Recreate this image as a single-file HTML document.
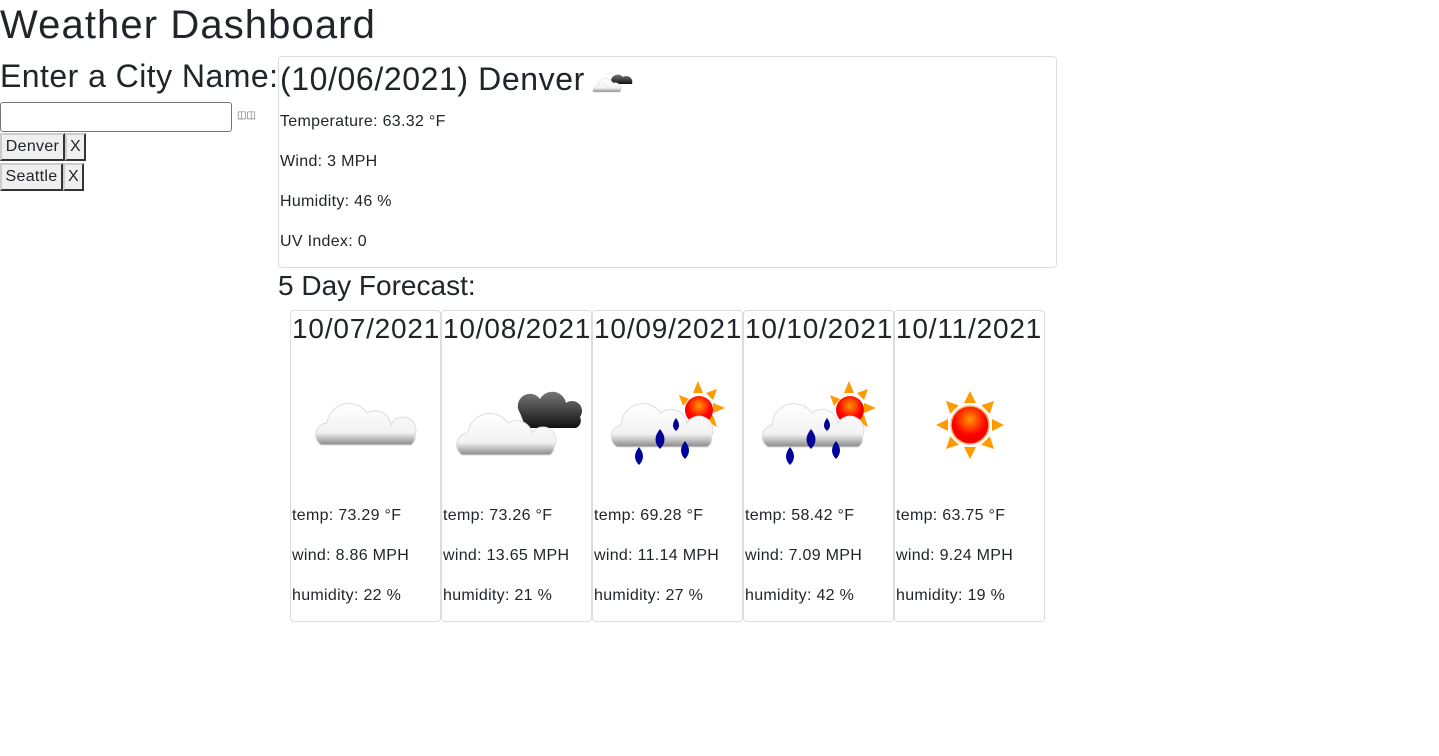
<!DOCTYPE html>
<html><head><meta charset="utf-8"><style>
body{margin:0;width:1439px;height:756px;background:#fff;font-family:"Liberation Sans",sans-serif;color:#212529;position:relative;overflow:hidden}
.a{position:absolute;white-space:nowrap}
.btn{position:absolute;background:#efefef;font-size:16px;line-height:24px;text-align:center;box-sizing:border-box;border-width:2px;border-style:outset;border-color:#ccc #888 #888 #ccc;letter-spacing:.3px}
.card{position:absolute;border:1px solid #ddd;border-radius:4px;box-sizing:border-box}
.fc{top:310px;width:151px;height:312px}
.fc .d{position:absolute;left:1px;top:0;font-size:28px;line-height:36px;letter-spacing:.8px}
.fc svg{position:absolute;left:0;top:60px}
.fc .t{position:absolute;left:1px;font-size:16px;letter-spacing:.3px}
.cur{font-size:16px;letter-spacing:.3px}
</style></head><body>
<svg width="0" height="0" style="position:absolute">
<defs>
<linearGradient id="cg" x1="0" y1="0" x2="0" y2="1"><stop offset="0" stop-color="#fff"/><stop offset=".7" stop-color="#f2f2f2"/><stop offset="1" stop-color="#888"/></linearGradient>
<linearGradient id="dg" x1="0" y1="0" x2="0" y2="1"><stop offset="0" stop-color="#777"/><stop offset="1" stop-color="#111"/></linearGradient>
<radialGradient id="sg" cx=".5" cy=".35" r=".6"><stop offset="0" stop-color="#ff9a00"/><stop offset=".7" stop-color="#f00"/><stop offset="1" stop-color="#e00"/></radialGradient>
<g id="drops" fill="#00009a"><path d="M46 76q8 10 0 18q-8-8 0-18z"/><path d="M67 58q9 11 0 20q-9-9 0-20z"/><path d="M83 47q6 8 0 13q-6-5 0-13z"/><path d="M92 70q8 10 0 18q-8-8 0-18z"/></g>
<g id="rsun"><g fill="#ff9a00"><polygon points="105,10 110,22 100,22"/><polygon points="132,37 120,42 120,32"/><polygon points="86,24 96,28 90,35"/><polygon points="124,18 120,29 113,22"/><polygon points="124,56 113,50 120,44"/></g><circle cx="106" cy="39" r="14" fill="url(#sg)"/></g>
<path id="rcloud" d="M24 76a12 12 0 0 1 4-22a22 22 0 0 1 40-12a16 16 0 0 1 26 10a12 12 0 0 1 24 14a8 8 0 0 1-4 10z" fill="url(#cg)" stroke="#ddd"/>
</defs></svg>
<div class="a" style="left:0;top:0;font-size:40px;line-height:50px;letter-spacing:1.1px">Weather Dashboard</div>
<div class="a" style="left:0;top:56px;font-size:32px;line-height:40px;letter-spacing:.45px">Enter a City Name:</div>
<div class="a" style="left:0;top:102px;width:232px;height:30px;border:1px solid #767676;border-radius:3px;box-sizing:border-box"></div>
<div class="a" style="left:237px;top:110px;font-size:10px;color:#666">&#9707;&#9707;</div>
<div class="btn" style="left:0;top:133px;width:65px;height:28px">Denver</div>
<div class="btn" style="left:65px;top:133px;width:21px;height:28px">X</div>
<div class="btn" style="left:0;top:163px;width:63px;height:28px">Seattle</div>
<div class="btn" style="left:63px;top:163px;width:21px;height:28px">X</div>

<div class="card" style="left:278px;top:56px;width:779px;height:212px">
<div class="a" style="left:1px;top:2px;font-size:32px;line-height:40px;letter-spacing:.6px">(10/06/2021) Denver</div>
<svg class="a" style="left:312px;top:8px" width="44" height="32" viewBox="0 0 44 30"><path d="M20 14a7 7 0 0 1 12-3a6 6 0 0 1 9 7h-20z" fill="url(#dg)"/><path d="M2 26a6 6 0 0 1 5-7a8 8 0 0 1 15-2a6 6 0 0 1 7 9z" fill="url(#cg)" stroke="#ccc" stroke-width=".5"/></svg>
<div class="a cur" style="top:56px;left:1px">Temperature: 63.32 °F</div>
<div class="a cur" style="top:96px;left:1px">Wind: 3 MPH</div>
<div class="a cur" style="top:136px;left:1px">Humidity: 46 %</div>
<div class="a cur" style="top:176px;left:1px">UV Index: 0</div>
</div>
<div class="a" style="left:278px;top:268px;font-size:28px;line-height:36px">5 Day Forecast:</div>

<div class="card fc" style="left:290px">
<div class="d">10/07/2021</div>
<svg width="150" height="100"><path d="M30 74a12 12 0 0 1 6-22a22 22 0 0 1 40-10a16 16 0 0 1 24 12a12 12 0 0 1 24 10a10 10 0 0 1 -4 10z" fill="url(#cg)" stroke="#ddd"/></svg>
<div class="t" style="top:196px">temp: 73.29 °F</div>
<div class="t" style="top:236px">wind: 8.86 MPH</div>
<div class="t" style="top:276px">humidity: 22 %</div>
</div>
<div class="card fc" style="left:441px">
<div class="d">10/08/2021</div>
<svg width="150" height="100"><path d="M78 42a10 10 0 0 1 20-14a14 14 0 0 1 26 4a10 10 0 0 1 14 14a8 8 0 0 1-4 11h-50z" fill="url(#dg)"/><path d="M20 84a12 12 0 0 1 6-22a22 22 0 0 1 40-10a16 16 0 0 1 24 10a12 12 0 0 1 22 14a9 9 0 0 1-4 8z" fill="url(#cg)" stroke="#ddd"/></svg>
<div class="t" style="top:196px">temp: 73.26 °F</div>
<div class="t" style="top:236px">wind: 13.65 MPH</div>
<div class="t" style="top:276px">humidity: 21 %</div>
</div>
<div class="card fc" style="left:592px">
<div class="d">10/09/2021</div>
<svg width="150" height="100"><use href="#rsun"/><use href="#rcloud"/><use href="#drops"/></svg>
<div class="t" style="top:196px">temp: 69.28 °F</div>
<div class="t" style="top:236px">wind: 11.14 MPH</div>
<div class="t" style="top:276px">humidity: 27 %</div>
</div>
<div class="card fc" style="left:743px">
<div class="d">10/10/2021</div>
<svg width="150" height="100"><use href="#rsun"/><use href="#rcloud"/><use href="#drops"/></svg>
<div class="t" style="top:196px">temp: 58.42 °F</div>
<div class="t" style="top:236px">wind: 7.09 MPH</div>
<div class="t" style="top:276px">humidity: 42 %</div>
</div>
<div class="card fc" style="left:894px">
<div class="d">10/11/2021</div>
<svg width="150" height="100"><g fill="#ff9a00" transform="translate(75,54)"><g id="ray"><polygon points="0,-34 6,-22 -6,-22"/></g><use href="#ray" transform="rotate(45)"/><use href="#ray" transform="rotate(90)"/><use href="#ray" transform="rotate(135)"/><use href="#ray" transform="rotate(180)"/><use href="#ray" transform="rotate(225)"/><use href="#ray" transform="rotate(270)"/><use href="#ray" transform="rotate(315)"/></g><circle cx="75" cy="54" r="19" fill="url(#sg)" stroke="#ffb060" stroke-width="1.5"/></svg>
<div class="t" style="top:196px">temp: 63.75 °F</div>
<div class="t" style="top:236px">wind: 9.24 MPH</div>
<div class="t" style="top:276px">humidity: 19 %</div>
</div>
</body></html>
